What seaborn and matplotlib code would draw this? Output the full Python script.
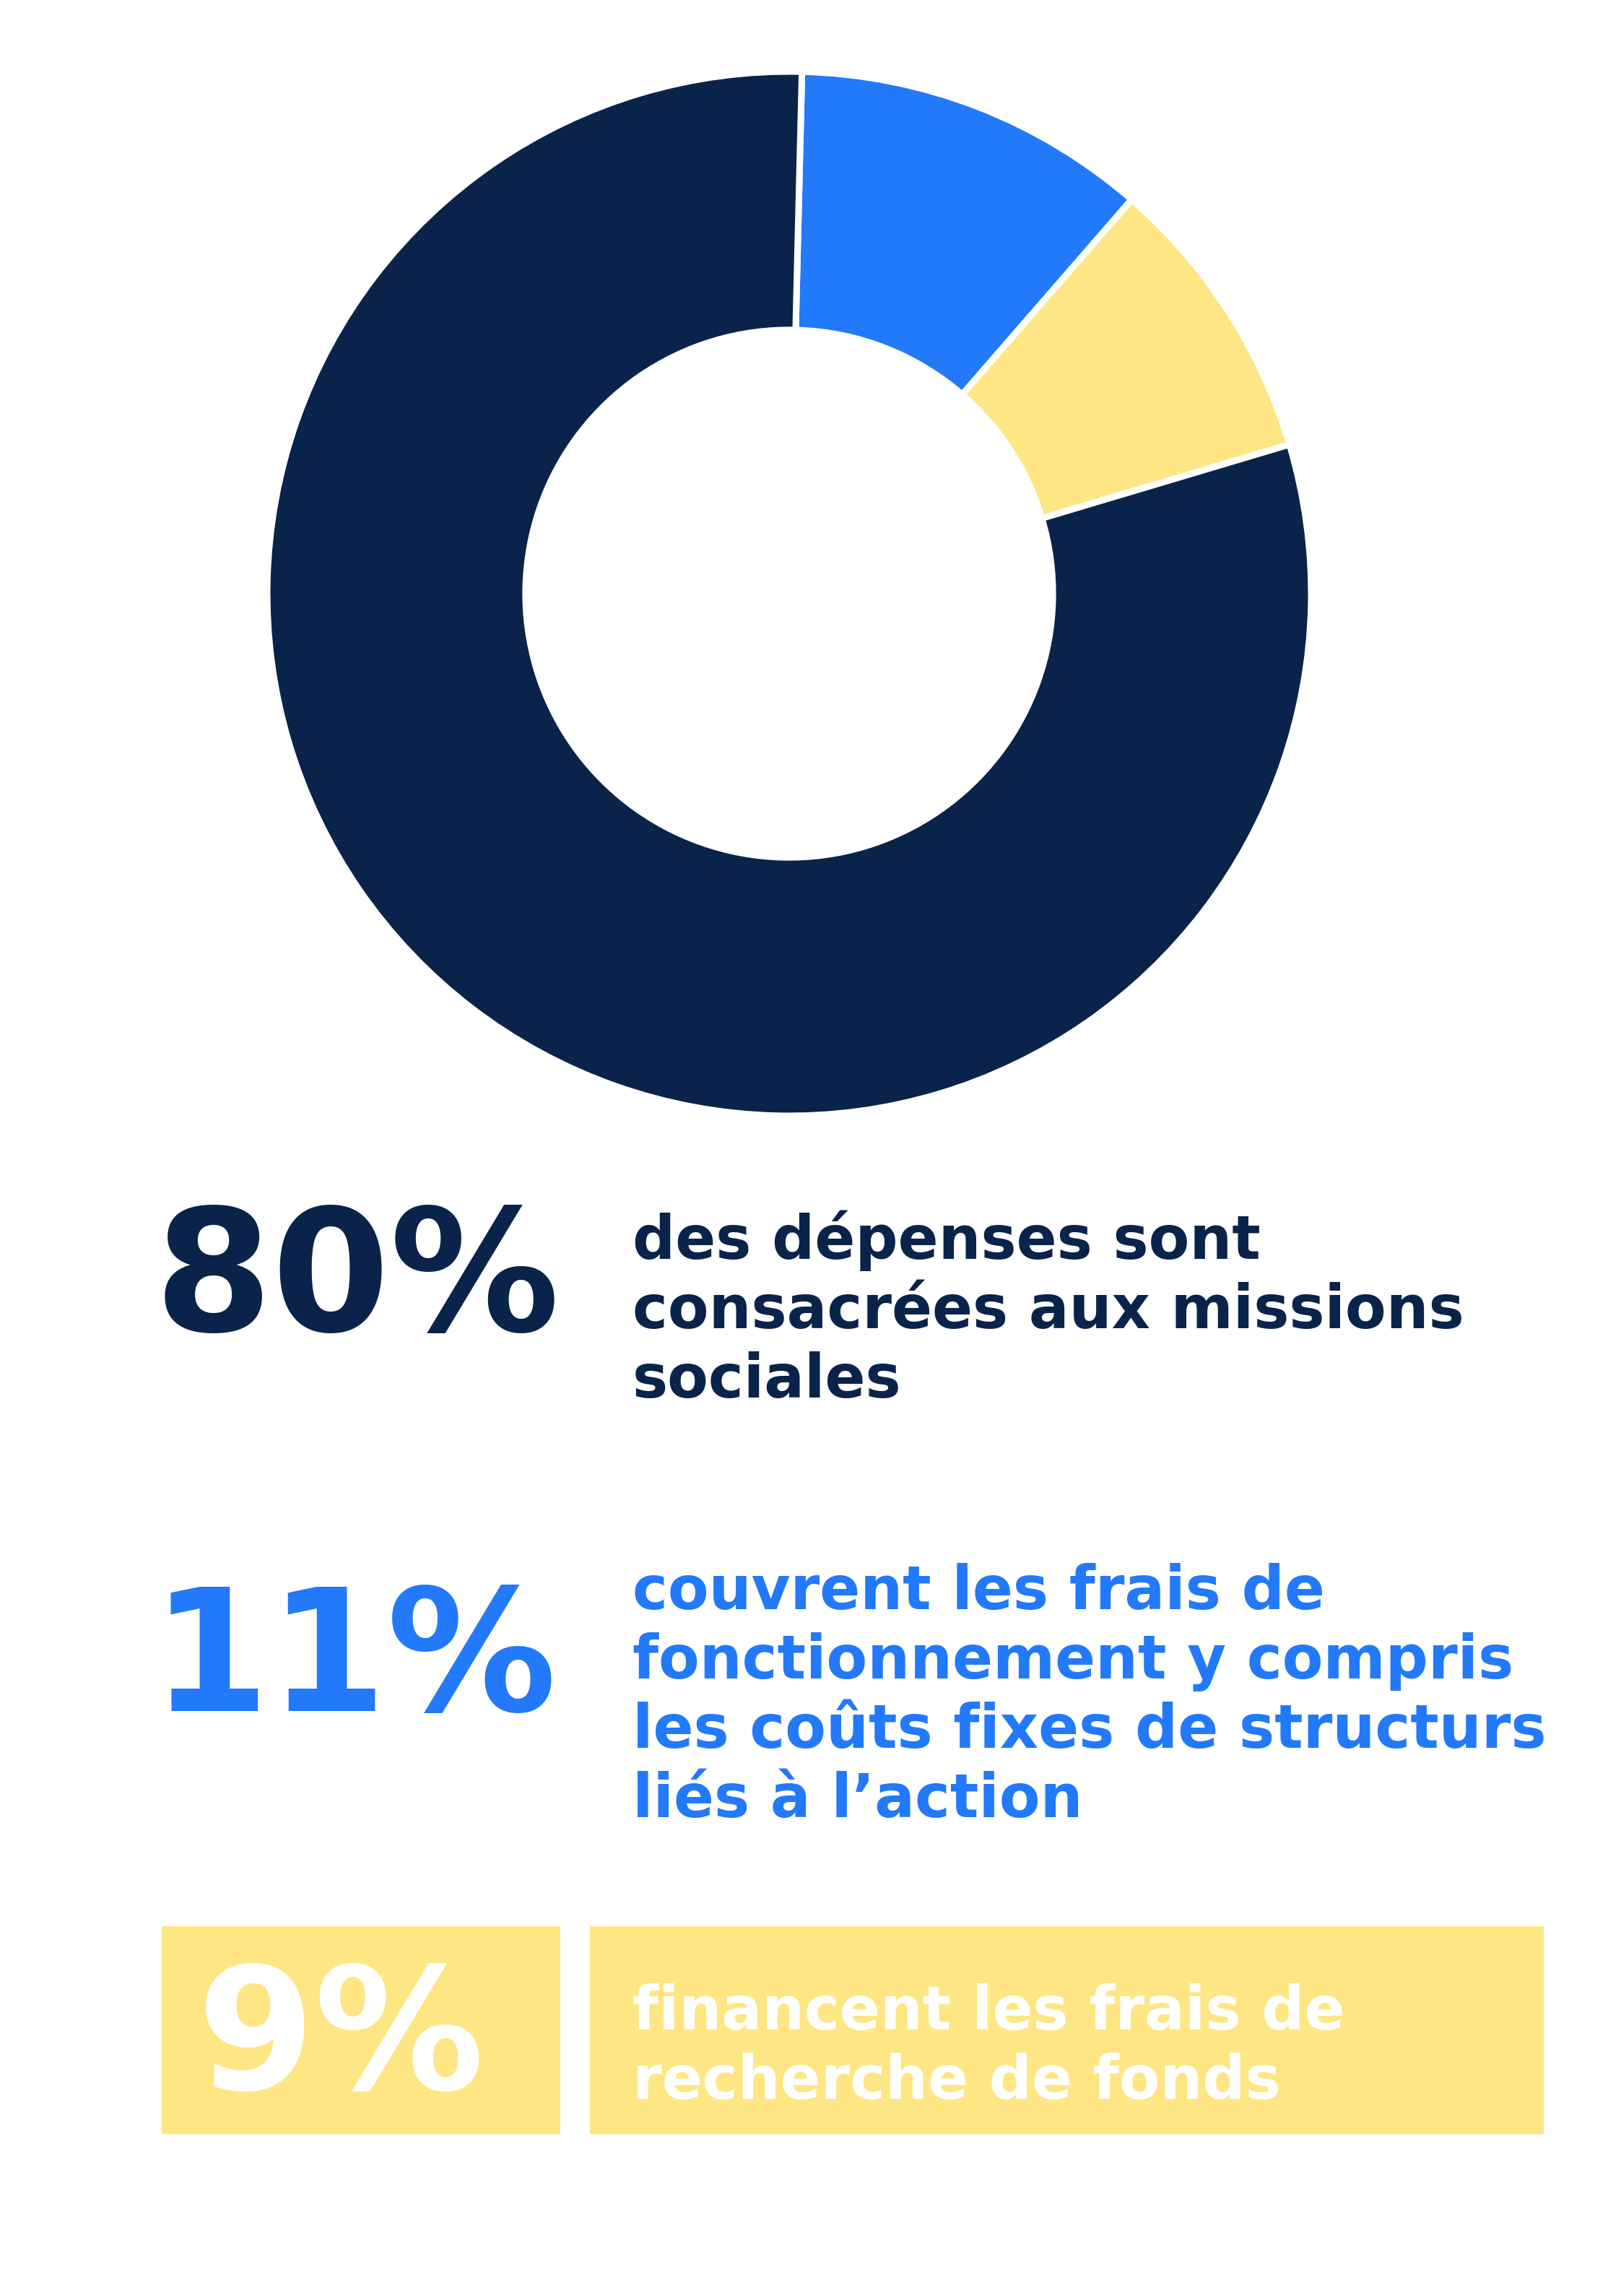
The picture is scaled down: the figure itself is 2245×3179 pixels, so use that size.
import matplotlib.pyplot as plt
from matplotlib.patches import Rectangle
import seaborn as sns

# Données du graphique
categories = ["Frais de fonctionnement", "Recherche de fonds", "Missions sociales"]
parts = [11, 9, 80]
couleurs = ["#2279FA", "#FFE684", "#0A234B"]

pourcentages = ["80%", "11%", "9%"]
texte_missions = ["des dépenses sont", "consacrées aux missions", "sociales"]
texte_fonctionnement = ["couvrent les frais de", "fonctionnement y compris",
                        "les coûts fixes de structurs", "liés à l\u2019action"]
texte_fonds = ["financent les frais de", "recherche de fonds"]

W, H = 2245, 3179
DPI = 100

sns.set_theme(style="white")
plt.rcParams["font.family"] = ["DejaVu Sans"]

fig = plt.figure(figsize=(W / DPI, H / DPI), dpi=DPI, facecolor="white")


def fx(px):
    return px / W


def fy(py):
    return 1 - py / H


# Donut
cx, cy, r = 1093, 822, 723
lim = 1.02
ax = fig.add_axes([fx(cx - r * lim), fy(cy + r * lim), 2 * r * lim / W, 2 * r * lim / H])
ax.pie(parts, colors=couleurs, startangle=88.6, counterclock=False,
       wedgeprops=dict(width=0.495, edgecolor="white", linewidth=6.5))
ax.set_xlim(-lim, lim)
ax.set_ylim(-lim, lim)
ax.set_aspect("equal")
ax.axis("off")

navy, bleu, jaune = couleurs[2], couleurs[0], couleurs[1]
gros = 169
corps = 59.5
x_texte = 876
pas = 96


def bloc(lignes, y0, couleur, x=x_texte):
    for i, ligne in enumerate(lignes):
        fig.text(fx(x), fy(y0 + i * pas), ligne, color=couleur, fontsize=corps,
                 fontweight="bold", va="baseline", ha="left")


# 80 %
fig.text(fx(495), fy(1843), pourcentages[0], color=navy, fontsize=gros,
         fontweight="bold", va="baseline", ha="center")
bloc(texte_missions, 1743, navy)

# 11 %
fig.text(fx(490), fy(2369), pourcentages[1], color=bleu, fontsize=gros,
         fontweight="bold", va="baseline", ha="center")
bloc(texte_fonctionnement, 2228, bleu)

# 9 % dans les cadres jaunes
fig.add_artist(Rectangle((fx(224), fy(2955)), (776 - 224) / W, (2955 - 2667) / H,
                         transform=fig.transFigure, facecolor=jaune, edgecolor="none"))
fig.add_artist(Rectangle((fx(817), fy(2955)), (2138 - 817) / W, (2955 - 2667) / H,
                         transform=fig.transFigure, facecolor=jaune, edgecolor="none"))
fig.text(fx(472), fy(2893), pourcentages[2], color="white", fontsize=gros,
         fontweight="bold", va="baseline", ha="center")
bloc(texte_fonds, 2810, "white")

fig.savefig("out.png", dpi=DPI, facecolor="white")
